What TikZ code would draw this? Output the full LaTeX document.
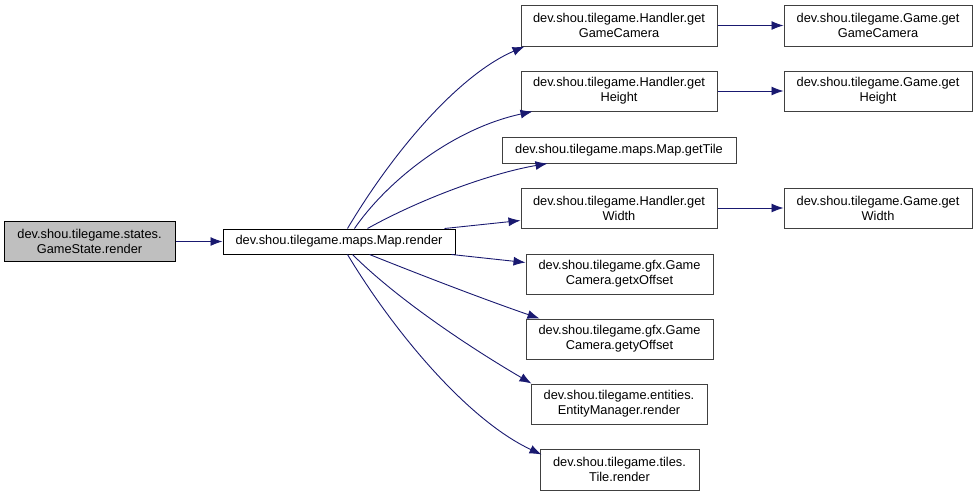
\documentclass[tikz,border=0pt]{standalone}
\usepackage{fontspec}
\setmainfont{Liberation Sans}
\usetikzlibrary{arrows.meta,calc,positioning}
\definecolor{edgeColor}{RGB}{25,25,112}
\definecolor{rootColor}{RGB}{191,191,191}
\definecolor{borderColor}{RGB}{64,64,64}
\tikzset{func/.style={draw=borderColor, fill=white, align=center, line width=1pt, inner sep=0pt, minimum height=40pt, font=\fontsize{12.8}{15}\selectfont}}
\tikzset{single/.style={func, minimum height=25pt}}
\tikzset{root/.style={func, draw=black, fill=rootColor}}
\tikzstyle{arrow} = [-{Latex[length=12pt,width=9pt]}, draw=edgeColor, fill=edgeColor, line width=0.9pt]

\begin{document}
\begin{tikzpicture}[x=1pt, y=-1pt, node distance=66pt]
	\useasboundingbox (0,0) rectangle (976,496);
	% Nodes
		\node (map) [single, draw=black, minimum width=232pt] at (339,241.5) {dev.shou.tilegame.maps.Map.render};
		\node (gamestate) [root, minimum width=171pt, left=47pt of map] {dev.shou.tilegame.states.\\GameState.render};
		\node (hgetcamera) [func, minimum width=196pt, minimum height=41pt] at (619,25.5) {dev.shou.tilegame.Handler.get\\GameCamera};
		\node (ggetcamera) [func, minimum width=188pt, minimum height=41pt, right=of hgetcamera] {dev.shou.tilegame.Game.get\\GameCamera};
		\node (hgetheight) [func, minimum width=196pt] at (619,91) {dev.shou.tilegame.Handler.get\\Height};
		\node (ggetheight) [func, minimum width=188pt, right=of hgetheight] {dev.shou.tilegame.Game.get\\Height};
		\node (gettile) [single, minimum width=234pt, minimum height=26pt] at (619,150) {dev.shou.tilegame.maps.Map.getTile};
		\node (hgetwidth) [func, minimum width=196pt] at (619,208) {dev.shou.tilegame.Handler.get\\Width};
		\node (ggetwidth) [func, minimum width=188pt, right=of hgetwidth] {dev.shou.tilegame.Game.get\\Width};
		\node (xoffset) [func, minimum width=187pt] at (619.5,274) {dev.shou.tilegame.gfx.Game\\Camera.getxOffset};
		\node (yoffset) [func, minimum width=187pt] at (619.5,339) {dev.shou.tilegame.gfx.Game\\Camera.getyOffset};
		\node (entities) [func, minimum width=176pt] at (619,404) {dev.shou.tilegame.entities.\\EntityManager.render};
		\node (tilerender) [func, minimum width=159pt, minimum height=41pt] at (619.5,469.5) {dev.shou.tilegame.tiles.\\Tile.render};

		% Connectors
		\begin{scope}[arrow]
			\draw (gamestate) -- (map);
			\draw ([xshift=125pt]map.north west) .. controls +(47,-79) and +(-65,28) .. ([xshift=4pt]hgetcamera.south west);
			\draw ([xshift=132pt]map.north west) .. controls +(30,-44) and +(-83,18) .. ([xshift=12pt]hgetheight.south west);
			\draw ([xshift=145pt]map.north west) .. controls +(52,-29) and +(-58,10) .. ([xshift=46pt]gettile.south west);
			\draw ([xshift=222pt]map.north west) -- ([yshift=8pt]hgetwidth.south west);
			\draw ([xshift=229pt]map.south west) -- ([yshift=-9pt]xoffset.north west);
			\draw ([xshift=147pt]map.south west) .. controls +(55,22) and +(-55,-19) .. ([xshift=14pt]yoffset.north west);
			\draw ([xshift=130pt]map.south west) .. controls +(45,45) and +(-60,-35) .. ([xshift=1pt]entities.north west);
			\draw ([xshift=125pt]map.south west) .. controls +(45,75) and +(-75,-35) .. ([xshift=2pt,yshift=-6pt]tilerender.north west);
			\draw (hgetcamera) -- (ggetcamera);
			\draw (hgetheight) -- (ggetheight);
			\draw (hgetwidth) -- (ggetwidth);
		\end{scope}
\end{tikzpicture}
\end{document}
